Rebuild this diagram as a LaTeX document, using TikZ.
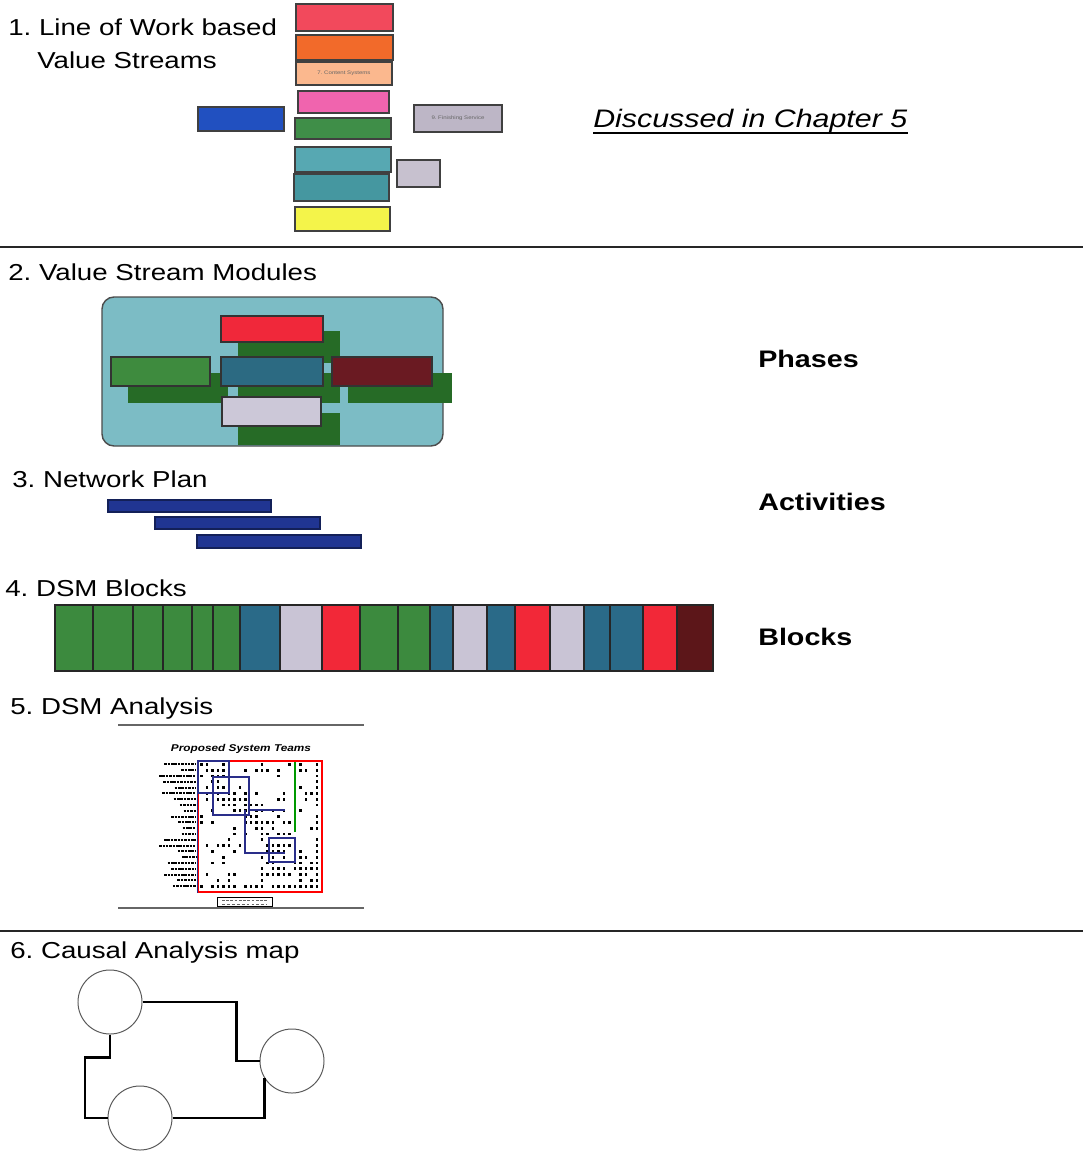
\documentclass[tikz,border=0pt]{standalone}
\usepackage{fontspec}
\setmainfont{Liberation Sans}[FakeStretch=1.2]
\usetikzlibrary{fit,positioning}
\frenchspacing

\definecolor{lwRed}{HTML}{F2495C}
\definecolor{lwOrange}{HTML}{F26A2A}
\definecolor{lwPeach}{HTML}{FBB88E}
\definecolor{lwPink}{HTML}{F064AE}
\definecolor{lwGreen}{HTML}{3F8E48}
\definecolor{lwBlue}{HTML}{2150C0}
\definecolor{lwGray}{HTML}{BDB6C6}
\definecolor{lwTeal}{HTML}{57A8B2}
\definecolor{lwTealB}{HTML}{4597A0}
\definecolor{lwYellow}{HTML}{F4F44A}
\definecolor{vsTeal}{HTML}{7CBCC5}
\definecolor{vsRed}{HTML}{F0283A}
\definecolor{vsDGreen}{HTML}{266B26}
\definecolor{vsGreen}{HTML}{3E8B3E}
\definecolor{vsBlue}{HTML}{2C6A82}
\definecolor{vsMaroon}{HTML}{6A1A22}
\definecolor{vsLav}{HTML}{CCC8D8}
\definecolor{npBlue}{HTML}{203592}
\definecolor{dsGreen}{HTML}{3C8A3E}
\definecolor{dsBlue}{HTML}{2A6A88}
\definecolor{dsLav}{HTML}{C9C4D5}
\definecolor{dsRed}{HTML}{F22838}
\definecolor{dsMaroon}{HTML}{5C1619}
\definecolor{teamBlue}{HTML}{2A2E8A}

\begin{document}
\begin{tikzpicture}[
      x=0.025cm, y=-0.025cm,
      heading/.style={anchor=base west,inner sep=0pt,
                      font=\fontsize{16.4}{19.5}\selectfont},
      sidetag/.style={anchor=base west,inner sep=0pt,
                      font=\fontsize{17}{20}\selectfont\bfseries},
      boxtext/.style={font=\fontsize{3.6}{4.2}\selectfont,text=black!60,inner sep=0pt},
      lwbox/.style={draw=black!75,line width=0.9pt,inner sep=0pt},
      vsbox/.style={draw=black!80,line width=0.9pt,inner sep=0pt},
      vsback/.style={fill=vsDGreen,draw=none,inner sep=0pt},
      blk/.style={draw=black!85,line width=1pt,inner sep=0pt},
      bar/.style={fill=npBlue,draw=npBlue!60!black,line width=0.8pt,inner sep=0pt},
      rule/.style={line width=1.5pt,black!85},
      thinrule/.style={line width=0.9pt,black!60},
      team/.style={draw=teamBlue,line width=1.3pt},
      cnode/.style={circle,draw=black!65,line width=0.7pt,minimum size=1.6cm,inner sep=0pt},
      link/.style={line width=2pt,line join=miter},
    ]
    \useasboundingbox (0,0) rectangle (1083,1151);

    % 1. line of work value streams
    \node[heading] (t1) at (8,35) {1. Line of Work based};
    \node[heading] (t1b) at (37,68) {Value Streams};
    \node[lwbox,fill=lwRed,fit={(296,4) (393,31)}] (lw1) {};
    \node[lwbox,fill=lwOrange,fit={(296,35) (393,60)}] (lw2) {};
    \node[lwbox,fill=lwPeach,fit={(296,62) (392,85)}] (lw3) {};
    \node[boxtext] at (lw3) {7. Content Systems};
    \node[lwbox,fill=lwPink,fit={(298,91) (389,113)}] (lw4) {};
    \node[lwbox,fill=lwGreen,fit={(295,118) (391,139)}] (lw5) {};
    \node[lwbox,fill=lwTeal,fit={(295,147) (391,172)}] (lw6) {};
    \node[lwbox,fill=lwTealB,fit={(294,174) (389,201)}] (lw7) {};
    \node[lwbox,fill=lwYellow,fit={(295,207) (390,231)}] (lw8) {};
    \node[lwbox,fill=lwBlue,fit={(198,107) (284,131)}] (lwl) {};
    \node[lwbox,fill=lwGray,fit={(414,105) (502,132)}] (lwr) {};
    \node[boxtext] at (lwr) {9. Finishing Service};
    \node[lwbox,fill=lwGray!85!white,fit={(397,160) (440,187)}] (lws) {};

    \node[anchor=base west,inner sep=0pt,font=\fontsize{18}{21}\selectfont\itshape]
          (disc) at (593,127) {Discussed in Chapter 5};
    \draw[line width=1.3pt] ([yshift=-4.3pt]disc.base west) -- ([yshift=-4.3pt]disc.base east);

    \draw[rule] (0,247) -- (1083,247);

    % 2. value stream modules
    \node[heading] (t2) at (8,280) {2. Value Stream Modules};
    \node[draw=black!70,line width=1pt,rounded corners=0.3cm,fill=vsTeal,
          inner sep=0pt,fit={(102,297) (443,446)}] (vsm) {};
    \node[vsback,fit={(238,331) (340,363)}] (sh1) {};
    \node[vsback,fit={(128,373) (228,403)}] (sh2) {};
    \node[vsback,fit={(238,373) (340,403)}] (sh3) {};
    \node[vsback,fit={(348,373) (452,403)}] (sh4) {};
    \node[vsback,fit={(238,413) (340,445)}] (sh5) {};
    \node[vsbox,fill=vsRed,fit={(221,316) (323,342)}] (vs1) {};
    \node[vsbox,fill=vsGreen,fit={(111,357) (210,386)}] (vs2) {};
    \node[vsbox,fill=vsBlue,fit={(221,357) (323,386)}] (vs3) {};
    \node[vsbox,fill=vsMaroon,fit={(332,357) (432,386)}] (vs4) {};
    \node[vsbox,fill=vsLav,fit={(222,397) (321,426)}] (vs5) {};
    \node[sidetag] (phases) at (758,367) {Phases};

    % 3. network plan
    \node[heading] (t3) at (12,487) {3. Network Plan};
    \node[bar,fit={(108,500) (271,512)}] (np1) {};
    \node[bar,fit={(155,517) (320,529)}] (np2) {};
    \node[bar,fit={(197,535) (361,548)}] (np3) {};
    \node[sidetag] (acts) at (758,510) {Activities};

    % 4. DSM blocks
    \node[heading] (t4) at (5,596) {4. DSM Blocks};
    \foreach \xa/\xb/\col [count=\i] in {55/93/dsGreen,93/133/dsGreen,133/163/dsGreen,
        163/192/dsGreen,192/213/dsGreen,213/240/dsGreen,240/280/dsBlue,280/322/dsLav,
        322/360/dsRed,360/398/dsGreen,398/430/dsGreen,430/453/dsBlue,453/487/dsLav,
        487/515/dsBlue,515/550/dsRed,550/584/dsLav,584/610/dsBlue,610/643/dsBlue,
        643/677/dsRed,677/713/dsMaroon}
      \node[blk,fill=\col,fit={(\xa,605) (\xb,671)}] (b\i) {};
    \node[sidetag] (blocks) at (758,645) {Blocks};

    % 5. DSM analysis
    \node[heading] (t5) at (10,714) {5. DSM Analysis};
    \draw[thinrule] (118,725) -- (364,725);
    \draw[thinrule] (118,908) -- (364,908);
    \node[inner sep=0pt,font=\fontsize{7}{8}\selectfont\bfseries\itshape]
          (dsmttl) at (241,749) {Proposed System Teams};
    \pgfmathsetseed{42}
    \foreach \r in {0,...,21}{
      \pgfmathsetmacro{\xs}{158+rnd*26}
      \draw[line width=1.4pt,dash pattern=on 1.8pt off 0.6pt]
           (\xs,764.4+\r*5.8) -- (196,764.4+\r*5.8);
      \foreach \c in {0,...,21}{
        \pgfmathsetmacro{\plim}{(\c==21 || \r==21) ? 0.85 : ((abs(\c-\r)<4) ? 0.55 : 0.2)}
        \pgfmathsetmacro{\prnd}{rnd}
        \ifdim\prnd pt<\plim pt
          \fill (200+\c*5.5,763+\r*5.8) rectangle ++(2.7,2.7);
        \fi
      }
    }
    \node[draw=red,line width=0.8pt,inner sep=0pt,fit={(198,761) (322,892)}] (dsm) {};
    \draw[team] (dsm.north west) -- (dsm.south west);
    \draw[draw=green!60!black,line width=1pt] (295,762) -- (295,832);
    \draw[team] (198,761) rectangle (229,793);
    \draw[team] (213,777) rectangle (249,815);
    \draw[team,line width=2pt] (249,810) -- (285,810);
    \draw[team] (245,810) -- (245,853) -- (285,853);
    \draw[team] (269,838) rectangle (295,862);
    \node[draw,line width=0.6pt,inner sep=0pt,fill=white,fit={(217,897) (272,906)}] (leg) {};
    \draw[black!60,line width=0.6pt,dash pattern=on 2pt off 1pt] (222,900) -- (267,900);
    \draw[black!60,line width=0.6pt,dash pattern=on 2pt off 1.5pt] (222,904) -- (267,904);

    \draw[rule] (0,931) -- (1083,931);

    % 6. causal analysis map
    \node[heading] (t6) at (10,958) {6. Causal Analysis map};
    \node[cnode] (c1) at (110,1002) {};
    \node[cnode] (c2) at (292,1061) {};
    \node[cnode] (c3) at (140,1118) {};
    \draw[link] (c1.east) -- ++(94,0) |- (c2.west);
    \draw[link] (c1.south) -- ++(0,23) -- ++(-25,0) |- (c3.west);
    \draw[link] (c3.east) -| (c2.212);
  \end{tikzpicture}
\end{document}
